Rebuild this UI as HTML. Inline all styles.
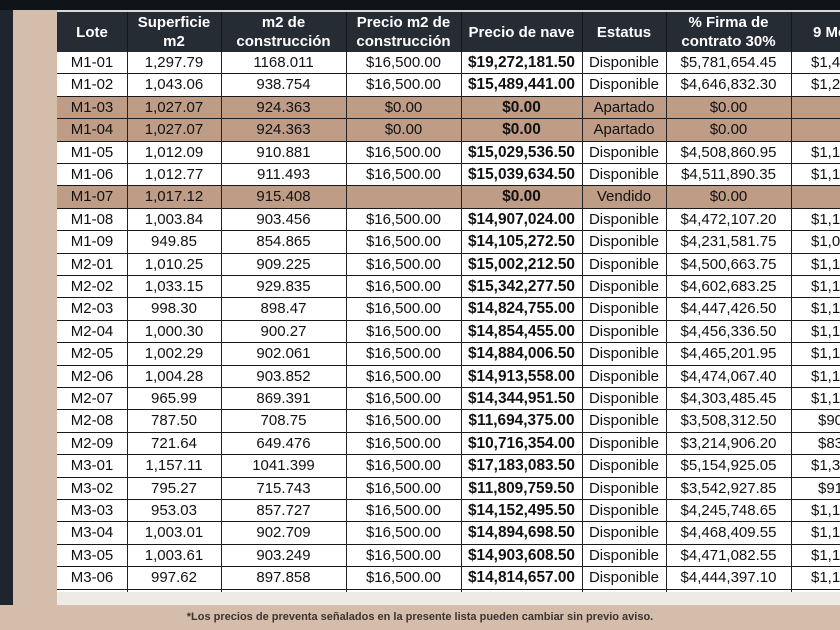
<!DOCTYPE html>
<html>
<head>
<meta charset="utf-8">
<style>
  html,body{margin:0;padding:0;}
  body{width:840px;height:630px;overflow:hidden;position:relative;background:#d5bdab;font-family:"Liberation Sans",Arial,sans-serif;}
  .topbar{position:absolute;left:0;top:0;width:840px;height:10px;background:#0f1419;}
  .leftbar{position:absolute;left:0;top:10px;width:13px;height:595px;background:#1e252e;}
  .tbl{position:absolute;left:57px;top:10px;width:783px;height:582px;background:#fff;}
  .topline{position:absolute;left:57px;top:10px;width:783px;height:2px;background:#d9d9d9;}
  .hdr{position:absolute;left:57px;top:12px;height:40px;width:783px;background:#262c34;display:flex;overflow:hidden;}
  .hdr div{flex:none;height:40px;display:flex;align-items:center;justify-content:center;text-align:center;color:#fff;font-weight:bold;font-size:15px;line-height:19px;white-space:nowrap;overflow:hidden;}
  .r{position:absolute;left:57px;width:783px;height:22.4px;border-bottom:1px solid #1a1a1a;box-sizing:border-box;display:flex;font-size:15px;line-height:21.4px;color:#111;background:#fff;overflow:hidden;}
  .r.b{background:#bf9c85;}
  .r span{display:block;flex:none;text-align:center;white-space:nowrap;overflow:hidden;}
  .c1{width:70px}.c2{width:94px}.c3{width:125px}.c4{width:115px}.c5{width:121px;font-weight:bold;font-size:15.4px}.c6{width:84px}.c7{width:125px}
  .r span.c8{width:49px;text-align:left;padding-left:20px;box-sizing:border-box;}
  .r span.c8.s{padding-left:27px;}
  .v{position:absolute;width:1px;top:52px;height:540px;background:#222;}
  .vh{position:absolute;width:1px;top:12px;height:40px;background:#14181d;}
  .strip{position:absolute;left:57px;top:592px;width:783px;height:13px;background:#eeebe7;}
  .foot{position:absolute;left:0;width:840px;top:610px;text-align:center;font-weight:bold;font-size:11px;line-height:14px;color:#3b3431;}
</style>
</head>
<body>
<div class="topbar"></div>
<div class="leftbar"></div>
<div class="tbl"></div>
<div class="topline"></div>

<div class="hdr">
  <div class="c1">Lote</div>
  <div class="c2">Superficie<br>m2</div>
  <div class="c3">m2 de<br>construcción</div>
  <div class="c4">Precio m2 de<br>construcción</div>
  <div class="c5" style="font-size:15px">Precio de nave</div>
  <div class="c6">Estatus</div>
  <div class="c7">% Firma de<br>contrato 30%</div>
  <div style="width:49px;justify-content:flex-start;padding-left:22px;box-sizing:border-box;">9 Mensualidades</div>
</div>

<div class="r" style="top:52px"><span class="c1">M1-01</span><span class="c2">1,297.79</span><span class="c3">1168.011</span><span class="c4">$16,500.00</span><span class="c5">$19,272,181.50</span><span class="c6">Disponible</span><span class="c7">$5,781,654.45</span><span class="c8">$1,498,947.45</span></div>
<div class="r" style="top:74.4px"><span class="c1">M1-02</span><span class="c2">1,043.06</span><span class="c3">938.754</span><span class="c4">$16,500.00</span><span class="c5">$15,489,441.00</span><span class="c6">Disponible</span><span class="c7">$4,646,832.30</span><span class="c8">$1,204,734.30</span></div>
<div class="r b" style="top:96.8px"><span class="c1">M1-03</span><span class="c2">1,027.07</span><span class="c3">924.363</span><span class="c4">$0.00</span><span class="c5">$0.00</span><span class="c6">Apartado</span><span class="c7">$0.00</span><span class="c8"></span></div>
<div class="r b" style="top:119.2px"><span class="c1">M1-04</span><span class="c2">1,027.07</span><span class="c3">924.363</span><span class="c4">$0.00</span><span class="c5">$0.00</span><span class="c6">Apartado</span><span class="c7">$0.00</span><span class="c8"></span></div>
<div class="r" style="top:141.6px"><span class="c1">M1-05</span><span class="c2">1,012.09</span><span class="c3">910.881</span><span class="c4">$16,500.00</span><span class="c5">$15,029,536.50</span><span class="c6">Disponible</span><span class="c7">$4,508,860.95</span><span class="c8">$1,168,963.95</span></div>
<div class="r" style="top:164px"><span class="c1">M1-06</span><span class="c2">1,012.77</span><span class="c3">911.493</span><span class="c4">$16,500.00</span><span class="c5">$15,039,634.50</span><span class="c6">Disponible</span><span class="c7">$4,511,890.35</span><span class="c8">$1,169,749.35</span></div>
<div class="r b" style="top:186.4px"><span class="c1">M1-07</span><span class="c2">1,017.12</span><span class="c3">915.408</span><span class="c4"></span><span class="c5">$0.00</span><span class="c6">Vendido</span><span class="c7">$0.00</span><span class="c8"></span></div>
<div class="r" style="top:208.8px"><span class="c1">M1-08</span><span class="c2">1,003.84</span><span class="c3">903.456</span><span class="c4">$16,500.00</span><span class="c5">$14,907,024.00</span><span class="c6">Disponible</span><span class="c7">$4,472,107.20</span><span class="c8">$1,159,435.20</span></div>
<div class="r" style="top:231.2px"><span class="c1">M1-09</span><span class="c2">949.85</span><span class="c3">854.865</span><span class="c4">$16,500.00</span><span class="c5">$14,105,272.50</span><span class="c6">Disponible</span><span class="c7">$4,231,581.75</span><span class="c8">$1,097,076.75</span></div>
<div class="r" style="top:253.6px"><span class="c1">M2-01</span><span class="c2">1,010.25</span><span class="c3">909.225</span><span class="c4">$16,500.00</span><span class="c5">$15,002,212.50</span><span class="c6">Disponible</span><span class="c7">$4,500,663.75</span><span class="c8">$1,166,838.75</span></div>
<div class="r" style="top:276px"><span class="c1">M2-02</span><span class="c2">1,033.15</span><span class="c3">929.835</span><span class="c4">$16,500.00</span><span class="c5">$15,342,277.50</span><span class="c6">Disponible</span><span class="c7">$4,602,683.25</span><span class="c8">$1,193,288.25</span></div>
<div class="r" style="top:298.4px"><span class="c1">M2-03</span><span class="c2">998.30</span><span class="c3">898.47</span><span class="c4">$16,500.00</span><span class="c5">$14,824,755.00</span><span class="c6">Disponible</span><span class="c7">$4,447,426.50</span><span class="c8">$1,153,036.50</span></div>
<div class="r" style="top:320.8px"><span class="c1">M2-04</span><span class="c2">1,000.30</span><span class="c3">900.27</span><span class="c4">$16,500.00</span><span class="c5">$14,854,455.00</span><span class="c6">Disponible</span><span class="c7">$4,456,336.50</span><span class="c8">$1,155,346.50</span></div>
<div class="r" style="top:343.2px"><span class="c1">M2-05</span><span class="c2">1,002.29</span><span class="c3">902.061</span><span class="c4">$16,500.00</span><span class="c5">$14,884,006.50</span><span class="c6">Disponible</span><span class="c7">$4,465,201.95</span><span class="c8">$1,157,645.00</span></div>
<div class="r" style="top:365.6px"><span class="c1">M2-06</span><span class="c2">1,004.28</span><span class="c3">903.852</span><span class="c4">$16,500.00</span><span class="c5">$14,913,558.00</span><span class="c6">Disponible</span><span class="c7">$4,474,067.40</span><span class="c8">$1,159,943.40</span></div>
<div class="r" style="top:388px"><span class="c1">M2-07</span><span class="c2">965.99</span><span class="c3">869.391</span><span class="c4">$16,500.00</span><span class="c5">$14,344,951.50</span><span class="c6">Disponible</span><span class="c7">$4,303,485.45</span><span class="c8">$1,115,718.45</span></div>
<div class="r" style="top:410.4px"><span class="c1">M2-08</span><span class="c2">787.50</span><span class="c3">708.75</span><span class="c4">$16,500.00</span><span class="c5">$11,694,375.00</span><span class="c6">Disponible</span><span class="c7">$3,508,312.50</span><span class="c8 s">$909,562.50</span></div>
<div class="r" style="top:432.8px"><span class="c1">M2-09</span><span class="c2">721.64</span><span class="c3">649.476</span><span class="c4">$16,500.00</span><span class="c5">$10,716,354.00</span><span class="c6">Disponible</span><span class="c7">$3,214,906.20</span><span class="c8 s">$833,494.20</span></div>
<div class="r" style="top:455.2px"><span class="c1">M3-01</span><span class="c2">1,157.11</span><span class="c3">1041.399</span><span class="c4">$16,500.00</span><span class="c5">$17,183,083.50</span><span class="c6">Disponible</span><span class="c7">$5,154,925.05</span><span class="c8">$1,336,462.05</span></div>
<div class="r" style="top:477.6px"><span class="c1">M3-02</span><span class="c2">795.27</span><span class="c3">715.743</span><span class="c4">$16,500.00</span><span class="c5">$11,809,759.50</span><span class="c6">Disponible</span><span class="c7">$3,542,927.85</span><span class="c8 s">$918,536.85</span></div>
<div class="r" style="top:500px"><span class="c1">M3-03</span><span class="c2">953.03</span><span class="c3">857.727</span><span class="c4">$16,500.00</span><span class="c5">$14,152,495.50</span><span class="c6">Disponible</span><span class="c7">$4,245,748.65</span><span class="c8">$1,100,749.65</span></div>
<div class="r" style="top:522.4px"><span class="c1">M3-04</span><span class="c2">1,003.01</span><span class="c3">902.709</span><span class="c4">$16,500.00</span><span class="c5">$14,894,698.50</span><span class="c6">Disponible</span><span class="c7">$4,468,409.55</span><span class="c8">$1,158,476.55</span></div>
<div class="r" style="top:544.8px"><span class="c1">M3-05</span><span class="c2">1,003.61</span><span class="c3">903.249</span><span class="c4">$16,500.00</span><span class="c5">$14,903,608.50</span><span class="c6">Disponible</span><span class="c7">$4,471,082.55</span><span class="c8">$1,159,169.55</span></div>
<div class="r" style="top:567.2px"><span class="c1">M3-06</span><span class="c2">997.62</span><span class="c3">897.858</span><span class="c4">$16,500.00</span><span class="c5">$14,814,657.00</span><span class="c6">Disponible</span><span class="c7">$4,444,397.10</span><span class="c8">$1,152,251.10</span></div>

<div class="vh" style="left:127px"></div>
<div class="vh" style="left:221px"></div>
<div class="vh" style="left:346px"></div>
<div class="vh" style="left:461px"></div>
<div class="vh" style="left:582px"></div>
<div class="vh" style="left:666px"></div>
<div class="vh" style="left:791px"></div>

<div class="v" style="left:127px"></div>
<div class="v" style="left:221px"></div>
<div class="v" style="left:346px"></div>
<div class="v" style="left:461px"></div>
<div class="v" style="left:582px"></div>
<div class="v" style="left:666px"></div>
<div class="v" style="left:791px"></div>

<div class="strip"></div>
<div class="foot">*Los precios de preventa señalados en la presente lista pueden cambiar sin previo aviso.</div>
</body>
</html>
